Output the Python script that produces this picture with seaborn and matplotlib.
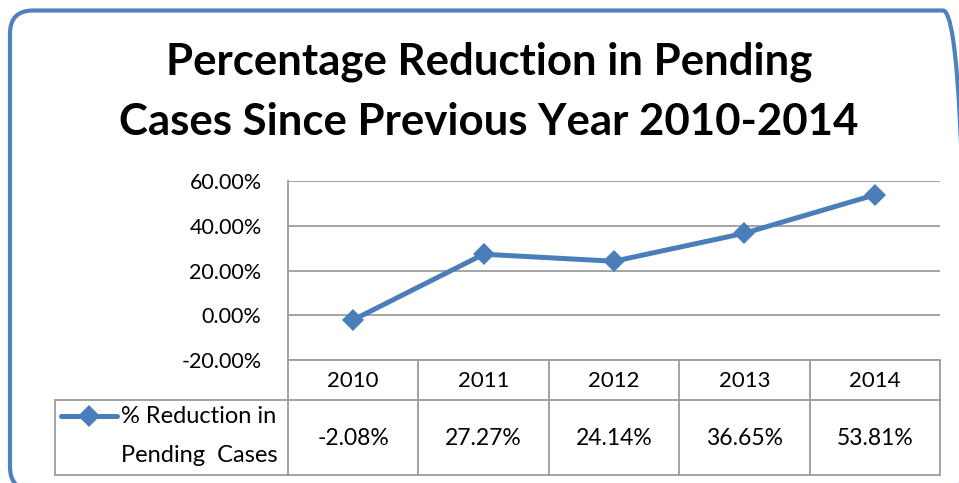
import numpy as np
import pandas as pd
import seaborn as sns
import matplotlib.pyplot as plt
from matplotlib.patches import FancyBboxPatch
from matplotlib.transforms import IdentityTransform, blended_transform_factory
from matplotlib.ticker import FuncFormatter

# +----------- Dados -----------
years = ["2010", "2011", "2012", "2013", "2014"]
reduction = [-2.08, 27.27, 24.14, 36.65, 53.81]
series_name = ["% Reduction in", "Pending  Cases"]
y_ticks = [-20, 0, 20, 40, 60]
title = "Percentage Reduction in Pending\nCases Since Previous Year 2010-2014"

df = pd.DataFrame({"pos": range(len(years)), "year": years, "value": reduction})

sns.set_theme(style="white")
plt.rcParams["font.family"] = ["Lato", "DejaVu Sans"]

line_color = "#4A7EBB"
grid_color = "#9C9C9C"

fig = plt.figure(figsize=(9.59, 4.83), dpi=100)
ax = fig.add_axes([288 / 959, 123 / 483, 652 / 959, 179 / 483])

sns.lineplot(data=df, x="pos", y="value", ax=ax, color=line_color, linewidth=3.6,
             marker="D", markersize=11.5, markeredgewidth=0, clip_on=False)

ax.set_xlim(-0.5, len(years) - 0.5)
ax.set_ylim(y_ticks[0], y_ticks[-1])
ax.set_yticks(y_ticks)
ax.yaxis.set_major_formatter(FuncFormatter(lambda v, p: f"{v:.2f}%"))
ax.set_xticks([])
ax.set_xlabel("")
ax.set_ylabel("")
ax.tick_params(axis="y", length=0, pad=19, labelsize=15.5, labelcolor="black")
ax.grid(axis="y", color=grid_color, linewidth=1.3)
ax.set_axisbelow(True)
for side in ["top", "right", "bottom"]:
    ax.spines[side].set_visible(False)
ax.spines["left"].set_color(grid_color)
ax.spines["left"].set_linewidth(1.3)

# +----------- Tabela de dados -----------
tr = blended_transform_factory(ax.transData, ax.transAxes)
head_bot = -0.226
tab_bot = -0.642
tab_left = -2.287
x_edges = np.arange(len(years) + 1) - 0.5
lk = dict(transform=tr, color=grid_color, linewidth=1.3, clip_on=False)

ax.plot([x_edges[0], x_edges[-1]], [0, 0], **lk)
ax.plot([tab_left, x_edges[-1]], [head_bot, head_bot], **lk)
ax.plot([tab_left, x_edges[-1]], [tab_bot, tab_bot], **lk)
ax.plot([tab_left, tab_left], [head_bot, tab_bot], **lk)
for xe in x_edges:
    ax.plot([xe, xe], [0, tab_bot], **lk)

for i, (yr, val) in enumerate(zip(years, reduction)):
    ax.text(i, -0.117, yr, transform=tr, ha="center", va="center", fontsize=16, color="black")
    ax.text(i, -0.436, f"{val:.2f}%", transform=tr, ha="center", va="center", fontsize=16.5, color="black")

# legenda dentro da tabela
ax.plot([-2.241, -1.811], [-0.313, -0.313], transform=tr, color=line_color, linewidth=3.6,
        solid_capstyle="round", clip_on=False)
ax.plot([-2.026], [-0.313], transform=tr, color=line_color, marker="D", markersize=11,
        markeredgewidth=0, clip_on=False)
ax.text(-1.78, -0.313, series_name[0], transform=tr, ha="left", va="center", fontsize=17, color="black")
ax.text(-1.78, -0.536, series_name[1], transform=tr, ha="left", va="center", fontsize=17, color="black")

# +----------- Titulo e borda -----------
for k, line in enumerate(title.split("\n")):
    fig.text(489 / 959, 1 - (62 + 60 * k) / 483, line, ha="center", va="center", fontsize=31.5,
             fontweight="bold", color="black")

border = FancyBboxPatch((10, -7), 956, 479.5, boxstyle="round,pad=0,rounding_size=23",
                        transform=IdentityTransform(), facecolor="none",
                        edgecolor="#4F81BD", linewidth=3)
fig.patches.append(border)

fig.savefig("out.png", dpi=100)
